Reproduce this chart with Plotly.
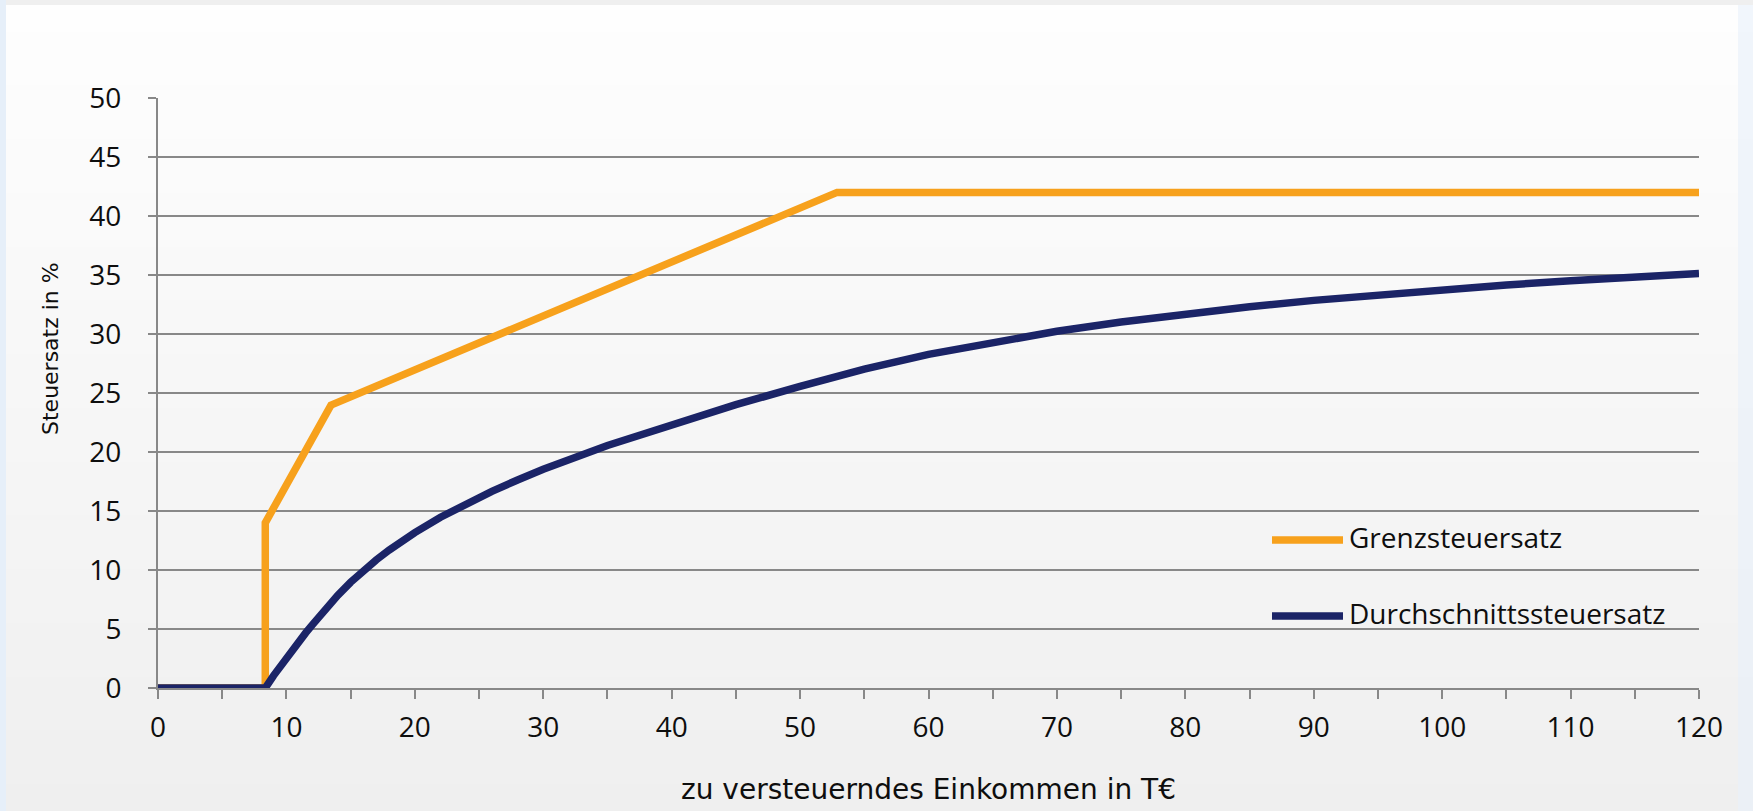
import plotly.graph_objects as go

# Einkommensteuertarif: zu versteuerndes Einkommen in T€ und Steuersätze in %
grenz_einkommen = [0, 8.354, 8.354, 13.469, 52.881, 120]
grenz_satz = [0, 0, 14, 23.97, 42, 42]

durchschnitt_einkommen = [0, 8.354, 9, 9.5, 10, 10.5, 11, 11.5, 12, 12.5, 13, 13.469,
                          14, 15, 16, 17, 18, 19, 20, 22, 24, 26, 28, 30, 35, 40, 45,
                          50, 52.881, 55, 60, 65, 70, 75, 80, 85, 90, 95, 100, 105,
                          110, 115, 120]
durchschnitt_satz = [0, 0, 1.05, 1.82, 2.57, 3.29, 3.99, 4.67, 5.33, 5.98, 6.62, 7.21,
                     7.85, 8.96, 9.95, 10.86, 11.69, 12.46, 13.17, 14.47, 15.62, 16.67,
                     17.63, 18.53, 20.55, 22.35, 24.01, 25.56, 26.42, 27.02, 28.27,
                     29.32, 30.23, 31.01, 31.70, 32.31, 32.85, 33.33, 33.76, 34.15,
                     34.51, 34.84, 35.13]

series_names = ["Grenzsteuersatz", "Durchschnittssteuersatz"]
series_colors = ["#F7A11C", "#1B2467"]

x_ticks = [0, 10, 20, 30, 40, 50, 60, 70, 80, 90, 100, 110, 120]
y_ticks = [0, 5, 10, 15, 20, 25, 30, 35, 40, 45, 50]

x_title = "zu versteuerndes Einkommen in T€"
y_title = "Steuersatz in %"

W, H = 1753, 811
ML, MR, MT, MB = 158, 54, 98, 123
PW, PH = W - ML - MR, H - MT - MB
GRID = "#888888"
TEXT = "#0E0E0E"


def px_x(p):
    return (p - ML) / PW


def px_y(p):
    return (H - MB - p) / PH


fig = go.Figure()

fig.add_trace(go.Scatter(
    x=grenz_einkommen, y=grenz_satz, mode="lines", name=series_names[0],
    line=dict(color=series_colors[0], width=7.5), cliponaxis=False, showlegend=False))
fig.add_trace(go.Scatter(
    x=durchschnitt_einkommen, y=durchschnitt_satz, mode="lines", name=series_names[1],
    line=dict(color=series_colors[1], width=7.5), cliponaxis=False, showlegend=False))

shapes = []
# vertical background gradient, white at the top to light grey at the bottom
steps = 60
top, bottom = 5, H
for i in range(steps):
    y0 = top + (bottom - top) * i / steps
    y1 = top + (bottom - top) * (i + 1) / steps + 1
    t = i / (steps - 1)
    c = round(254 - 15 * t)
    shapes.append(dict(type="rect", xref="paper", yref="paper", layer="below",
                       x0=px_x(0), x1=px_x(W), y0=px_y(y1), y1=px_y(y0),
                       fillcolor=f"rgb({c},{c},{c})", line=dict(width=0)))
# page frame
shapes.append(dict(type="rect", xref="paper", yref="paper", layer="below",
                   x0=px_x(0), x1=px_x(W), y0=px_y(5), y1=px_y(0),
                   fillcolor="#EFEFEF", line=dict(width=0)))
shapes.append(dict(type="rect", xref="paper", yref="paper", layer="below",
                   x0=px_x(0), x1=px_x(6), y0=px_y(H), y1=px_y(0),
                   fillcolor="#E6EFF9", line=dict(width=0)))
shapes.append(dict(type="rect", xref="paper", yref="paper", layer="below",
                   x0=px_x(1738), x1=px_x(W), y0=px_y(H), y1=px_y(5),
                   fillcolor="rgba(232,240,250,0.6)", line=dict(width=0)))

# legend samples
legend_y = [540, 616]
for yy, col in zip(legend_y, series_colors):
    shapes.append(dict(type="line", xref="paper", yref="paper",
                       x0=px_x(1272), x1=px_x(1343), y0=px_y(yy), y1=px_y(yy),
                       line=dict(color=col, width=7.5)))

annotations = []
for yy, name in zip([537, 613], series_names):
    annotations.append(dict(text=name, xref="paper", yref="paper", x=px_x(1347),
                            y=px_y(yy), xanchor="left", yanchor="middle",
                            showarrow=False,
                            font=dict(family="Open Sans", size=28, color=TEXT)))

# axis titles
annotations.append(dict(text=x_title, xref="paper", yref="paper", x=px_x(928),
                        y=px_y(789), xanchor="center", yanchor="middle",
                        showarrow=False,
                        font=dict(family="DejaVu Sans", size=28, color=TEXT)))
annotations.append(dict(text=y_title, xref="paper", yref="paper", x=px_x(50),
                        y=px_y(349), xanchor="center", yanchor="middle",
                        textangle=-90, showarrow=False,
                        font=dict(family="DejaVu Sans", size=22, color=TEXT)))

fig.update_layout(
    width=W, height=H,
    margin=dict(l=ML, r=MR, t=MT, b=MB, pad=0),
    paper_bgcolor="#FFFFFF",
    plot_bgcolor="rgba(0,0,0,0)",
    shapes=shapes,
    annotations=annotations,
    showlegend=False,
)

fig.update_xaxes(
    range=[0, 120], tickvals=x_ticks, ticktext=[str(v) for v in x_ticks],
    showgrid=False, zeroline=False,
    showline=True, linecolor=GRID, linewidth=2,
    ticks="outside", ticklen=9, tickwidth=2, tickcolor=GRID,
    minor=dict(dtick=5, tick0=0, ticks="outside", ticklen=9, tickwidth=2,
               tickcolor=GRID, showgrid=False),
    tickfont=dict(family="Open Sans", size=28, color=TEXT),
    ticklabelstandoff=4,
)
fig.update_yaxes(
    range=[0, 50], tickvals=y_ticks, ticktext=[str(v) for v in y_ticks],
    showgrid=True, gridcolor=GRID, gridwidth=2, zeroline=False,
    showline=True, linecolor=GRID, linewidth=2,
    ticks="outside", ticklen=8, tickwidth=2, tickcolor=GRID,
    tickfont=dict(family="Open Sans", size=28, color=TEXT),
    ticklabelstandoff=21,
)

fig.write_html("out.html")
